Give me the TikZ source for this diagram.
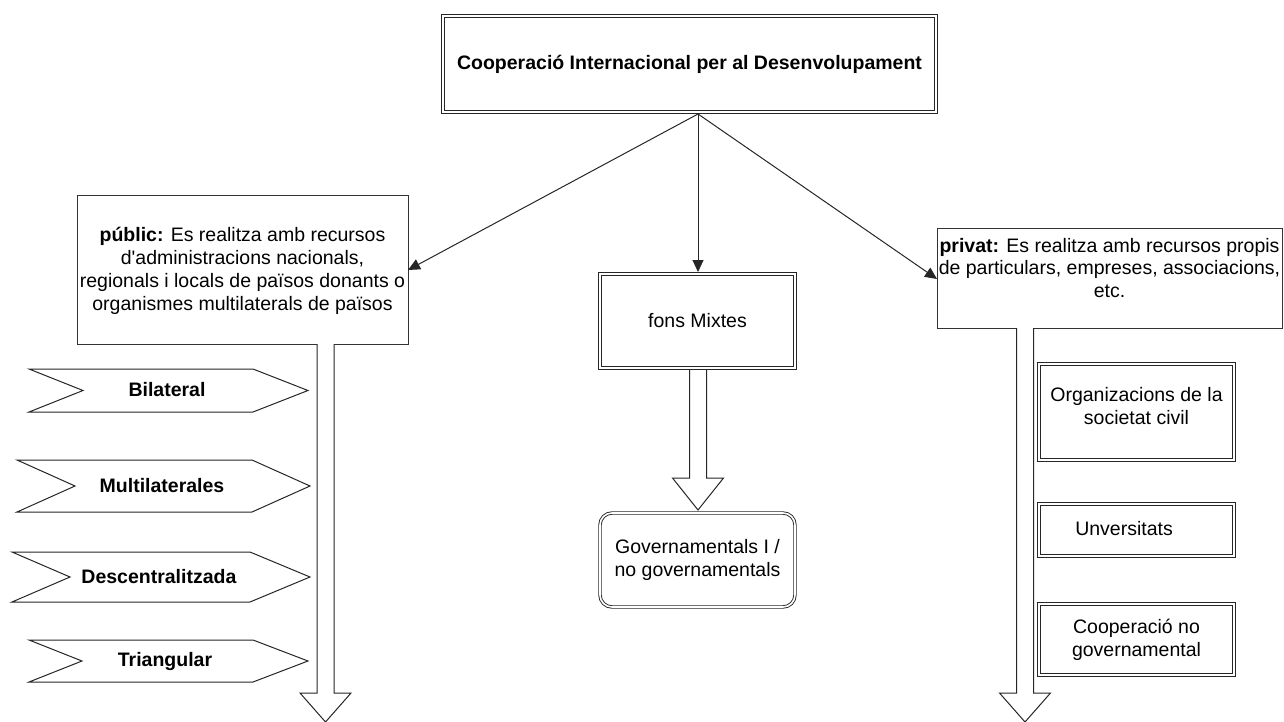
\documentclass[tikz,border=0pt]{standalone}
\usepackage{fontspec}
\setmainfont{Liberation Sans}
\usetikzlibrary{arrows.meta,calc}
\begin{document}
\begin{tikzpicture}[x=1pt,y=-1pt,
  every node/.style={font=\fontsize{19.5}{22.8}\selectfont, inner sep=0pt, align=center},
  dbox/.style={draw=black!85, line width=0.9pt, double, double distance=1.6pt, minimum width=#1},
  sbox/.style={draw=black!80, line width=1pt},
  conn/.style={draw=black!85, line width=1pt, -{Triangle[length=12pt,width=11pt]}},
  barrow/.style={draw=black!85, line width=1pt, fill=white, line join=miter},
  chev/.style={draw=black!85, line width=1pt, fill=white, line join=miter}
]
\useasboundingbox (0,0) rectangle (1284,722);

% top box
\node[dbox=493pt, minimum height=96pt] (top) at (689.5,64)
  {\textbf{Cooperació Internacional per al Desenvolupament}};
\coordinate (src) at (698,114);

% publica
\node[sbox, minimum width=331pt, minimum height=148pt] (pub) at (242.5,270) {};
\node (pubtxt) at (242.5,271) {\textbf{públic:} Es realitza amb recursos\\d\textquotesingle administracions nacionals,\\regionals i locals de països donants o\\organismes multilaterals de països};

% privat
\node[sbox, minimum width=345pt, minimum height=100pt] (priv) at (1109.5,278) {};
\node (privtxt) at (1109.5,268) {\textbf{privat:} Es realitza amb recursos propis\\de particulars, empreses, associacions,\\etc.};

% mixtes
\node[dbox=195pt, minimum height=94pt] (mix) at (697.5,321) {fons Mixtes};
\node[dbox=195pt, minimum height=94pt, rounded corners=12pt] (gov) at (697.5,560) {Governamentals I /\\no governamentals};

% right boxes
\node[dbox=195pt, minimum height=96pt] (org) at (1136.5,412) {};
\node (orgtxt) at (1136.5,406) {Organizacions de la\\societat civil};
\node[dbox=195pt, minimum height=52pt] (uni) at (1136.5,530) {};
\node (unitxt) at (1124,529) {Unversitats};
\node[dbox=195pt, minimum height=71pt] (coop) at (1136.5,639.5) {Cooperació no\\governamental};

% connectors
\draw[conn] (src) -- (408,270);
\draw[conn] (src) -- (698,272);
\draw[conn] (src) -- (937,279);

% block arrows
\coordinate (lA) at (325.5,344);
\coordinate (lB) at (325.5,722);
\coordinate (rA) at (1025,328);
\coordinate (rB) at (1025,722);
\coordinate (mA) at (698,370);
\coordinate (mB) at (698,510);
\foreach \a/\b/\h in {lA/lB/29, rA/rB/29, mA/mB/32}{
  \draw[barrow] ($(\a)+(-8.5,0)$) -- ($(\b)+(-8.5,-\h)$) -- ($(\b)+(-25.5,-\h)$) -- (\b)
     -- ($(\b)+(25.5,-\h)$) -- ($(\b)+(8.5,-\h)$) -- ($(\a)+(8.5,0)$);
}

% chevrons
\foreach \L/\N/\B/\T/\ya/\yb in {29/83/253/308/369/412, 17/75/252/310/460/512, 12/70/250/310/552/602, 29/82/253/308/640/682}{
  \draw[chev] (\L,\ya) -- (\B,\ya) -- (\T,{(\ya+\yb)/2}) -- (\B,\yb) -- (\L,\yb) -- (\N,{(\ya+\yb)/2}) -- cycle;
}
\node (c1) at (167,390) {\textbf{Bilateral}};
\node (c2) at (162,486) {\textbf{Multilaterales}};
\node (c3) at (159,577) {\textbf{Descentralitzada}};
\node (c4) at (165,661) {\textbf{Triangular}};
\end{tikzpicture}
\end{document}
